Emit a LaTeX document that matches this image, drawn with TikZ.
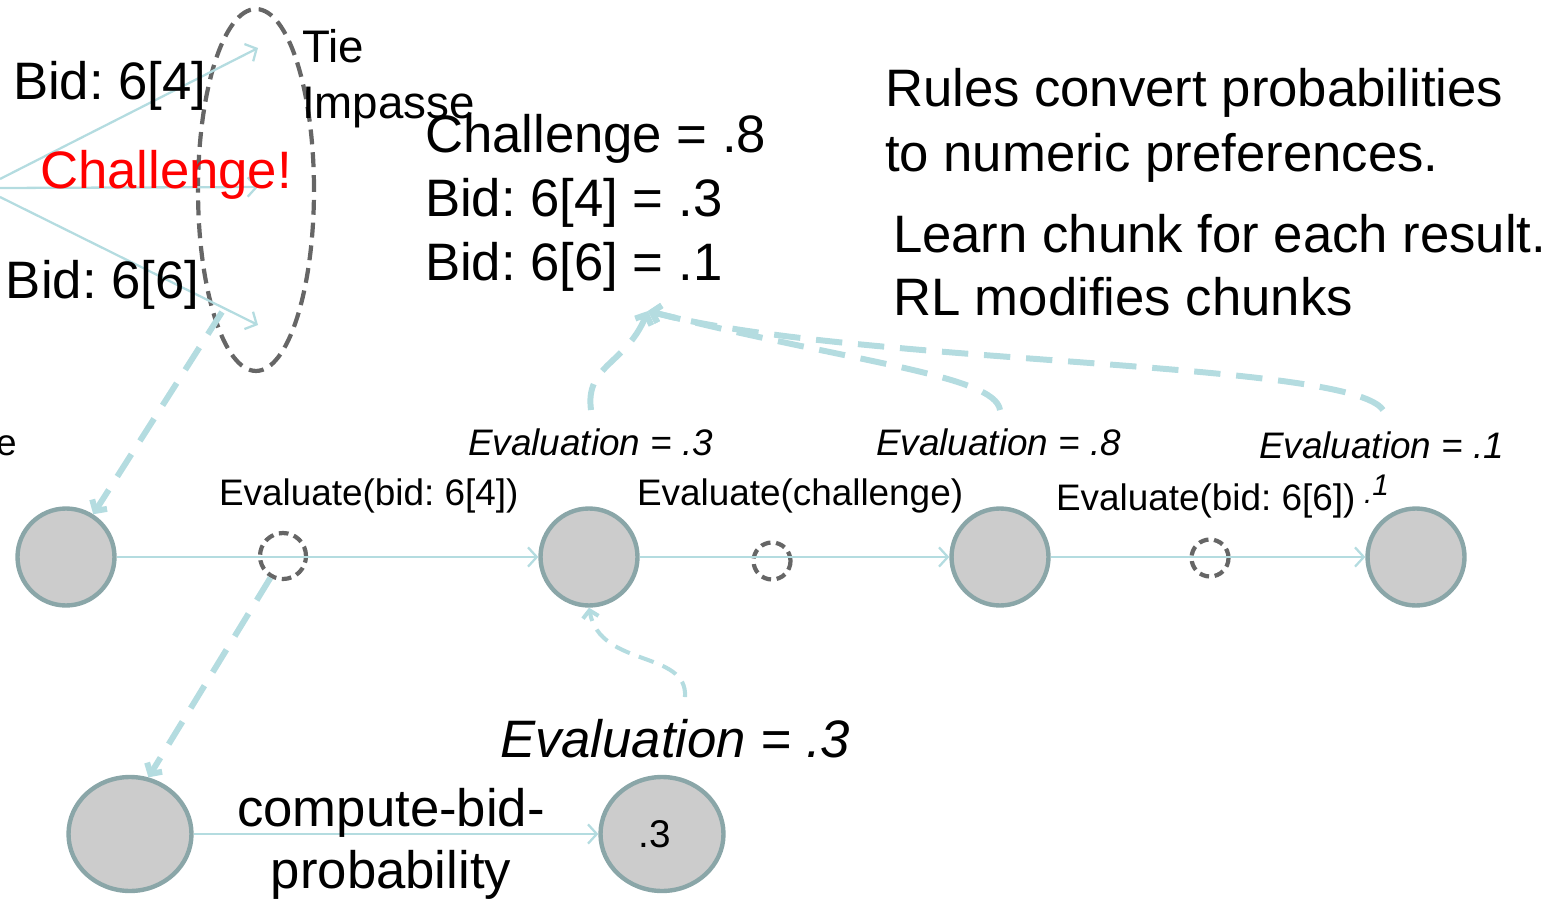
\documentclass[tikz,border=0pt]{standalone}
\usepackage{fontspec}
\setmainfont{Liberation Sans}
\usetikzlibrary{arrows.meta,shapes.geometric}
\definecolor{lb}{HTML}{B4DCE0}
\definecolor{cs}{HTML}{8AA6A8}
\definecolor{cf}{HTML}{CCCCCC}
\definecolor{dg}{HTML}{666666}
\frenchspacing
\begin{document}
\begin{tikzpicture}[x=0.02cm,y=-0.02cm,
  txt/.style={inner sep=0pt, outer sep=0pt, anchor=base west},
  bigtxt/.style={txt, font=\fontsize{30}{36}\selectfont},
  tietxt/.style={txt, font=\fontsize{26}{31}\selectfont},
  midtxt/.style={txt, font=\fontsize{21}{25}\selectfont},
  evtxt/.style={midtxt, font=\fontsize{21}{25}\selectfont\itshape},
  state/.style={ellipse, draw=cs, fill=cf, line width=2.5pt, minimum width=1.94cm, minimum height=1.94cm, inner sep=0pt},
  bstate/.style={state, minimum width=2.46cm, minimum height=2.28cm},
  opnode/.style={circle, draw=dg, line width=2.4pt, dash pattern=on 5.5pt off 3.2pt, inner sep=0pt},
  thinarr/.style={draw=lb, line width=1.3pt, -{Straight Barb[length=5pt,width=11pt]}},
  dasharr/.style={draw=lb, line width=3.4pt, dash pattern=on 15pt off 9pt, -{Straight Barb[length=4.5pt,width=10pt]}},
  dasharrthin/.style={draw=lb, line width=2.3pt, dash pattern=on 9pt off 5.5pt, -{Straight Barb[length=4pt,width=9pt]}}
]
\useasboundingbox (0,0) rectangle (1557,908);

% tie impasse ellipse
\node[ellipse, draw=dg, line width=2.4pt, dash pattern=on 8.5pt off 4.5pt, minimum width=2.32cm, minimum height=7.24cm, inner sep=0pt] (tie) at (256,190) {};

% left-side fan of options
\coordinate (l1) at (0,179);
\coordinate (l2) at (0,188);
\coordinate (l3) at (0,197);
\coordinate (t1) at (258,48);
\coordinate (t2) at (258,187);
\coordinate (t3) at (258,325);
\draw[thinarr] (l1) -- (t1);
\draw[thinarr] (l2) -- (t2);
\draw[thinarr] (l3) -- (t3);

\node[bigtxt] (bid4) at (13,100) {Bid: 6[4]};
\node[bigtxt, text=red] (chal) at (40,189) {Challenge!};
\node[bigtxt] (bid6) at (6,299) {Bid: 6[6]};
\node[tietxt] (tielab) at (302,63) {Tie};
\node[tietxt] (implab) at (302,119) {Impasse};

% preferences
\node[bigtxt] (p1) at (425,153) {Challenge = .8};
\node[bigtxt] (p2) at (425,217) {Bid: 6[4] = .3};
\node[bigtxt] (p3) at (425,281) {Bid: 6[6] = .1};

\node[bigtxt] (r1) at (885,107) {Rules convert probabilities};
\node[bigtxt] (r2) at (885,172) {to numeric preferences.};
\node[bigtxt] (r3) at (893,253) {Learn chunk for each result.};
\node[bigtxt] (r4) at (893,316) {RL modifies chunks};

% main row
\node[midtxt] (ecut) at (-4,455) {e};
\node[state] (s1) at (66,557) {};
\node[state] (s2) at (589,557) {};
\node[state] (s3) at (1000,557) {};
\node[state] (s4) at (1416,557) {};
\node[opnode, minimum size=0.92cm] (d1) at (283,556) {};
\node[opnode, minimum size=0.74cm] (d2) at (772,561) {};
\node[opnode, minimum size=0.74cm] (d3) at (1210,558) {};

\draw[thinarr] (s1) -- (s2);
\draw[thinarr] (s2) -- (s3);
\draw[thinarr] (s3) -- (s4);

\node[midtxt] (op1) at (219,505) {Evaluate(bid: 6[4])};
\node[midtxt] (op2) at (637,505) {Evaluate(challenge)};
\node[midtxt] (op3) at (1056,510) {Evaluate(bid: 6[6])};
\node[txt, font=\fontsize{17}{20}\selectfont\itshape] (dot1) at (1364,503) {.\raisebox{4pt}{1}};

\node[evtxt] (ev1) at (468,455) {Evaluation = .3};
\node[evtxt] (ev2) at (876,455) {Evaluation = .8};
\node[evtxt] (ev3) at (1259,458) {Evaluation = .1};

% bottom row
\node[bstate] (b1) at (130,834) {};
\node[bstate, font=\fontsize{22}{26}\selectfont] (b2) at (662,834) {\hspace*{-0.3cm}.3};
\draw[thinarr] (b1) -- (b2);
\node[inner sep=0pt, anchor=base, font=\fontsize{30}{36}\selectfont] (cb1) at (391,826) {compute-bid-};
\node[inner sep=0pt, anchor=base, font=\fontsize{30}{36}\selectfont] (cb2) at (391,888) {probability};
\node[txt, font=\fontsize{30}{36}\selectfont\itshape] (evb) at (500,757) {Evaluation = .3};

% dashed connectors
\coordinate (e1) at (222,312);
\draw[dasharr] (e1) -- (s1);
\draw[dasharr] (d1.240) -- (b1.72);
\coordinate (cb) at (685,697);
\draw[dasharrthin] (cb) .. controls (688,650) and (600,668) .. (s2.south);

\coordinate (tgt) at (648,311);
\coordinate (u1) at (591,410);
\coordinate (u2) at (1000,410);
\coordinate (u3) at (1383,410);
\draw[dasharr] (u1) .. controls (585,365) and (625,365) .. (tgt);
\draw[dasharr] (u2) .. controls (995,375) and (850,362) .. (tgt);
\draw[dasharr] (u3) .. controls (1350,360) and (850,365) .. (tgt);
\end{tikzpicture}
\end{document}
